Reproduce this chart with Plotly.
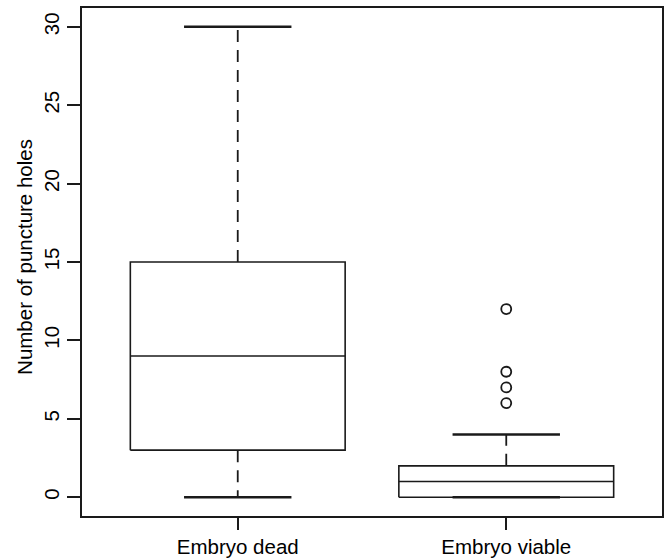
import plotly.graph_objects as go

categories = ["Embryo dead", "Embryo viable"]
lower_whisker = [0, 0]
q1 = [3, 0]
median = [9, 1]
q3 = [15, 2]
upper_whisker = [30, 4]
outliers = [[], [6, 7, 8, 12]]
y_ticks = [0, 5, 10, 15, 20, 25, 30]

BOX_HALF = 0.4
CAP_HALF = 0.2
LINE = dict(color="#1a1a1a", width=1.6)
WHISK = dict(color="#1a1a1a", width=1.8, dash="12px,8px")
CAP = dict(color="#1a1a1a", width=2.4)

fig = go.Figure()
for i, cat in enumerate(categories):
    pos = i + 1
    # box
    fig.add_trace(go.Scatter(
        x=[pos - BOX_HALF, pos + BOX_HALF, pos + BOX_HALF, pos - BOX_HALF, pos - BOX_HALF],
        y=[q1[i], q1[i], q3[i], q3[i], q1[i]],
        mode="lines", line=LINE, hoverinfo="skip", showlegend=False))
    # median
    fig.add_trace(go.Scatter(
        x=[pos - BOX_HALF, pos + BOX_HALF], y=[median[i], median[i]],
        mode="lines", line=LINE, hoverinfo="skip", showlegend=False))
    # whiskers
    fig.add_trace(go.Scatter(
        x=[pos, pos], y=[q3[i], upper_whisker[i]],
        mode="lines", line=WHISK, hoverinfo="skip", showlegend=False))
    fig.add_trace(go.Scatter(
        x=[pos, pos], y=[q1[i], lower_whisker[i]],
        mode="lines", line=WHISK, hoverinfo="skip", showlegend=False))
    # caps
    for w in (upper_whisker[i], lower_whisker[i]):
        fig.add_trace(go.Scatter(
            x=[pos - CAP_HALF, pos + CAP_HALF], y=[w, w],
            mode="lines", line=CAP, hoverinfo="skip", showlegend=False))
    # outliers
    if outliers[i]:
        fig.add_trace(go.Scatter(
            x=[pos] * len(outliers[i]), y=outliers[i], mode="markers",
            marker=dict(symbol="circle-open", size=10, color="#1a1a1a",
                        line=dict(width=1.8, color="#1a1a1a")),
            showlegend=False))

font = dict(family="Liberation Sans, Arial, sans-serif", size=20.5, color="black")

fig.update_layout(
    width=667, height=559,
    margin=dict(l=82, r=5, t=8, b=43),
    paper_bgcolor="white", plot_bgcolor="white",
    font=font,
    showlegend=False,
    xaxis=dict(
        range=[0.42, 2.58], tickmode="array", tickvals=[1, 2], ticktext=categories,
        ticks="outside", ticklen=12, tickwidth=1.5, tickcolor="#1a1a1a",
        showline=True, mirror=True, linecolor="#1a1a1a", linewidth=1.6,
        showgrid=False, zeroline=False, tickfont=font, automargin=False),
    yaxis=dict(
        range=[-1.2, 31.2], tickmode="array", tickvals=y_ticks,
        ticktext=[str(t) for t in y_ticks], tickangle=-90,
        ticks="outside", ticklen=13, tickwidth=1.5, tickcolor="#1a1a1a",
        showline=True, mirror=True, linecolor="#1a1a1a", linewidth=1.6,
        showgrid=False, zeroline=False, tickfont=font, automargin=False),
    annotations=[dict(
        text="Number of puncture holes", xref="paper", yref="paper",
        x=0, y=0.51, xshift=-57, textangle=-90, showarrow=False,
        xanchor="center", yanchor="middle", font=font)],
)

fig.write_html(
    "out.html",
    config={"displayModeBar": False},
    post_script="document.body.style.margin='0';document.body.style.overflow='hidden';",
)
